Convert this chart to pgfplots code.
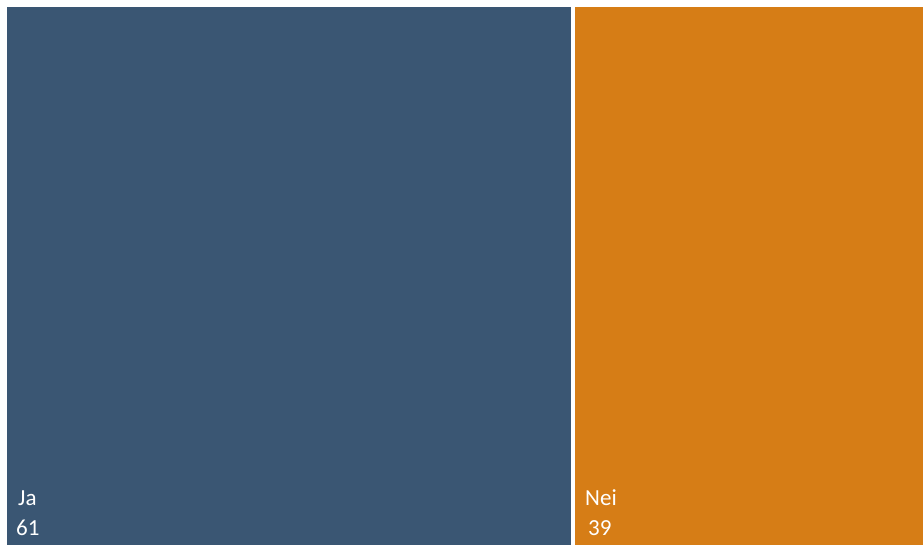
\documentclass[border=0pt]{standalone}
\usepackage{pgfplots}
\pgfplotsset{compat=1.18}
\usepackage{fontspec}
\setmainfont{Carlito}
\definecolor{jablue}{HTML}{3A5673}
\definecolor{neiorange}{HTML}{D67D16}
\begin{document}
\begin{tikzpicture}
\begin{axis}[
  scale only axis, width=923pt, height=545pt,
  xmin=0, xmax=923, ymin=0, ymax=545,
  axis lines=none, clip=false,
]
\path[draw=none, fill=none] (axis cs:0,0) rectangle (axis cs:923,545);
% Ja = 61
\addplot[fill=jablue, draw=none] coordinates {(7,0) (571,0) (571,538) (7,538)} -- cycle;
% Nei = 39
\addplot[fill=neiorange, draw=none] coordinates {(575,0) (923,0) (923,538) (575,538)} -- cycle;
\node[anchor=base west, text=white, font=\fontsize{23}{26}\selectfont, inner sep=0pt] at (axis cs:18,39) {Ja};
\node[anchor=base west, text=white, font=\fontsize{23}{26}\selectfont, inner sep=0pt] at (axis cs:16,9) {61};
\node[anchor=base west, text=white, font=\fontsize{23}{26}\selectfont, inner sep=0pt] at (axis cs:585,39) {Nei};
\node[anchor=base west, text=white, font=\fontsize{23}{26}\selectfont, inner sep=0pt] at (axis cs:588,9) {39};
\end{axis}
\end{tikzpicture}
\end{document}
